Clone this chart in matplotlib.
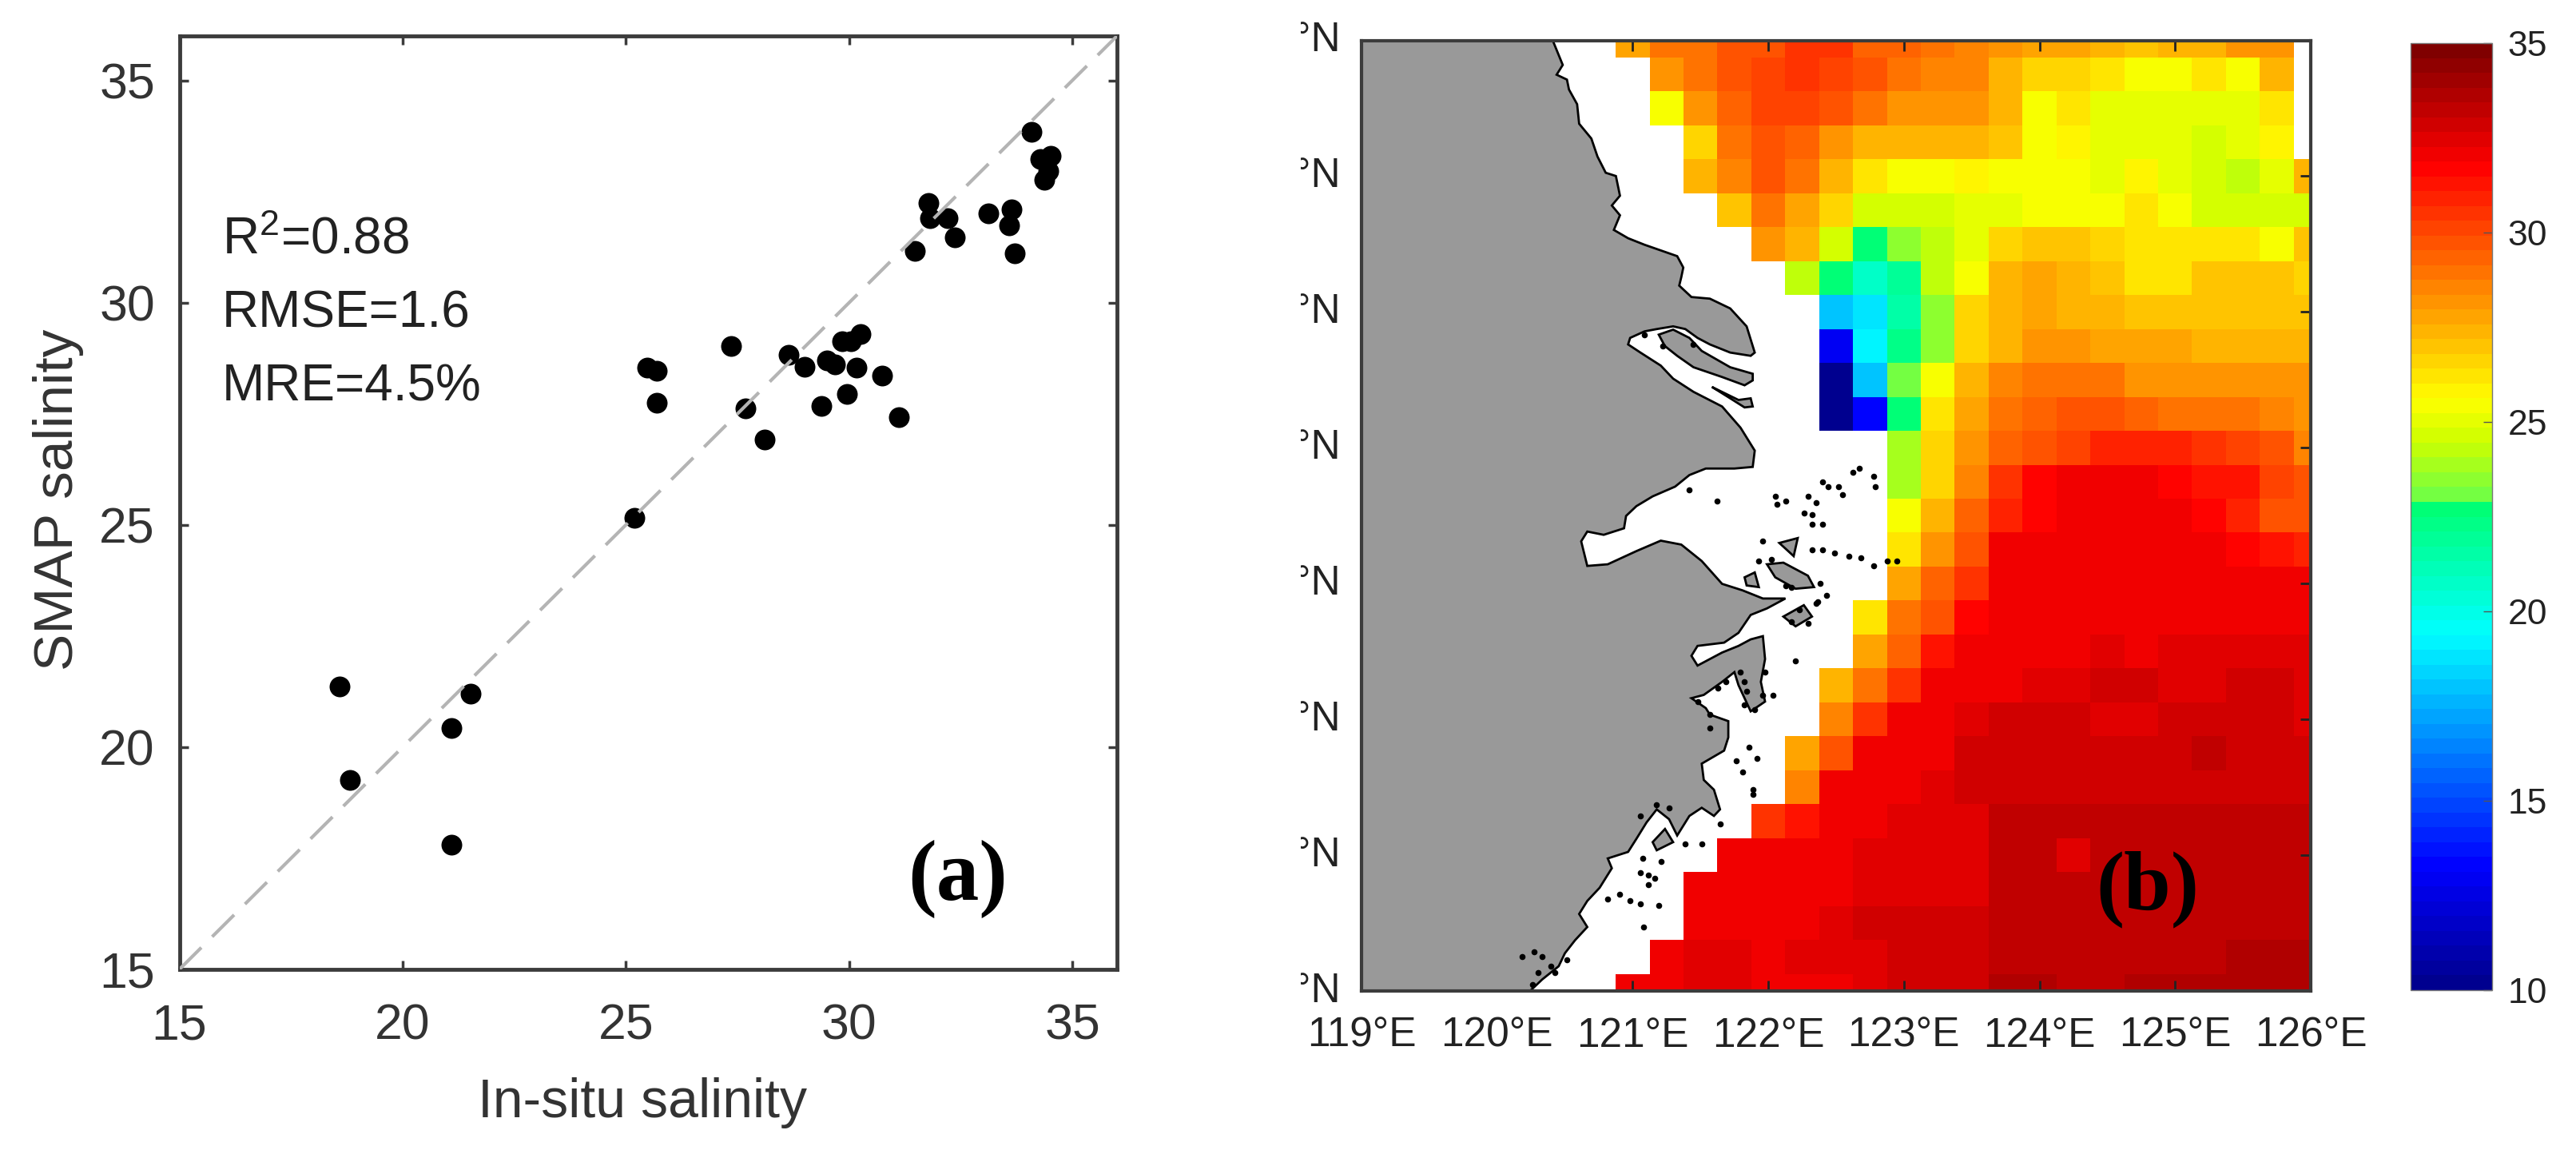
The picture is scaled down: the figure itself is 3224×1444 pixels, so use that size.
# -*- coding: utf-8 -*-
import numpy as np
import matplotlib
matplotlib.use('Agg')
import matplotlib.pyplot as plt
from matplotlib.colors import LinearSegmentedColormap
from matplotlib.transforms import Bbox, blended_transform_factory

plt.rcParams['font.family'] = ['Liberation Sans', 'DejaVu Sans']
plt.rcParams['mathtext.default'] = 'regular'

#%% Scatter data (a)
insitu = [34.09, 34.28, 34.51, 34.46, 34.38, 31.77, 31.81, 32.21, 32.37, 31.48, 33.11, 33.64, 33.58, 33.71,
          30.25, 30.04, 29.84, 28.64, 29.01, 29.51, 29.69, 30.16, 30.74, 29.96, 29.37, 27.67, 28.11, 31.11,
          27.36, 25.47, 25.70, 25.70, 25.20, 18.58, 21.52, 21.10, 18.82, 21.10]
smap = [33.84, 33.23, 33.30, 32.97, 32.76, 32.24, 31.90, 31.90, 31.47, 31.17, 32.00, 32.10, 31.73, 31.11,
        29.30, 29.13, 29.13, 28.83, 28.56, 28.70, 28.61, 28.54, 28.35, 27.94, 27.67, 27.62, 26.92, 27.43,
        29.03, 28.54, 28.47, 27.75, 25.15, 21.37, 21.20, 20.43, 19.27, 17.80]
one_to_one = [15, 36]
scatter_ticks = [15, 20, 25, 30, 35]
stats_labels = ['R$^{2}$=0.88', 'RMSE=1.6', 'MRE=4.5%']
stats_y = [31.1, 29.45, 27.8]

#%% Salinity grid (b), rows from 34N down to 27N, columns from 121E to 126E
n = np.nan
lon = [121 + 0.25 * i for i in range(21)]
lat = [34 - 0.25 * i for i in range(29)]
sal_rows = [
    [27.9, 28.9, 29.1, 29.7, 29.9, 30.5, 30.7, 29.5, 29.3, 28.9, 28.7, 28.3, 27.9, 27.7, 27.4, 27.0, 27.2, 27.2, 28.1, 28.1, n],
    [n, 28.1, 28.9, 29.7, 30.1, 30.7, 30.3, 29.7, 29.1, 28.7, 28.5, 27.4, 26.55, 26.55, 26.1, 25.6, 25.6, 26.1, 25.6, 27.4, n],
    [n, 25.6, 28.3, 29.3, 30.3, 30.3, 29.9, 29.1, 28.3, 28.3, 28.1, 27.2, 25.6, 26.1, 25.2, 25.2, 25.2, 25.2, 25.2, 26.1, n],
    [n, n, 26.55, 29.1, 29.9, 29.5, 28.3, 27.4, 27.4, 27.4, 27.4, 26.8, 25.6, 25.9, 25.2, 25.2, 25.2, 24.8, 25.1, 25.9, n],
    [n, n, 27.55, 28.7, 29.7, 29.1, 27.2, 26.1, 25.6, 25.6, 25.9, 25.6, 25.6, 25.6, 25.2, 25.9, 25.2, 24.8, 24.2, 25.1, 27.55],
    [n, n, n, 26.8, 29.1, 27.9, 26.55, 24.8, 24.5, 24.8, 25.1, 25.1, 25.6, 25.6, 25.6, 26.1, 25.6, 24.8, 24.8, 24.8, 24.8],
    [n, n, n, n, 28.3, 27.2, 24.8, 22.7, 23.3, 24.1, 25.0, 26.55, 26.8, 26.8, 26.55, 26.1, 26.1, 26.4, 26.4, 25.6, 26.8],
    [n, n, n, n, n, 24.1, 22.5, 20.7, 21.9, 24.1, 25.6, 27.2, 27.9, 27.2, 27.0, 26.1, 26.1, 26.8, 26.8, 26.8, 26.55],
    [n, n, n, n, n, n, 18.2, 18.6, 21.4, 23.6, 26.55, 27.4, 27.9, 27.4, 27.2, 26.8, 26.8, 26.8, 26.8, 26.8, 26.8],
    [n, n, n, n, n, n, 13.0, 19.0, 22.3, 23.6, 26.55, 27.55, 28.1, 28.1, 27.9, 27.9, 27.7, 27.4, 27.4, 27.4, 27.2],
    [n, n, n, n, n, n, 10.2, 18.2, 23.0, 25.6, 27.55, 28.5, 29.1, 29.1, 28.9, 28.3, 28.3, 28.3, 28.1, 28.1, 28.1],
    [n, n, n, n, n, n, 10.2, 13.5, 22.85, 26.4, 27.9, 28.9, 29.3, 29.9, 29.9, 29.5, 29.1, 28.9, 28.9, 28.5, 28.3],
    [n, n, n, n, n, n, n, n, 23.9, 26.55, 28.1, 29.5, 29.9, 30.1, 30.9, 30.9, 30.9, 30.5, 30.1, 29.7, 28.7],
    [n, n, n, n, n, n, n, n, 23.9, 26.55, 28.5, 30.5, 31.5, 31.9, 31.9, 31.9, 31.7, 31.3, 31.1, 30.3, 29.9],
    [n, n, n, n, n, n, n, n, 25.6, 27.55, 29.5, 30.9, 31.7, 31.9, 31.9, 31.9, 31.9, 31.7, 30.9, 29.9, 29.9],
    [n, n, n, n, n, n, n, n, 26.4, 28.1, 29.9, 31.9, 31.9, 31.9, 31.9, 31.9, 31.9, 31.9, 31.5, 31.1, 30.9],
    [n, n, n, n, n, n, n, n, 27.9, 29.5, 30.7, 31.9, 31.9, 32.25, 32.25, 32.25, 31.9, 31.9, 31.9, 31.9, 31.9],
    [n, n, n, n, n, n, n, 26.4, 29.1, 29.9, 31.7, 31.9, 31.9, 32.05, 32.05, 32.05, 31.9, 31.9, 32.25, 31.9, 32.25],
    [n, n, n, n, n, n, n, 27.7, 29.3, 31.1, 31.9, 31.9, 32.25, 32.05, 32.6, 32.25, 32.44, 32.44, 32.6, 32.6, 32.44],
    [n, n, n, n, n, n, 27.55, 28.9, 30.7, 31.9, 31.9, 32.25, 32.44, 32.44, 33.0, 33.0, 32.6, 32.6, 32.8, 32.8, 32.6],
    [n, n, n, n, n, n, 28.5, 30.5, 31.9, 31.9, 32.44, 32.8, 32.8, 32.8, 32.44, 32.44, 32.8, 33.0, 33.0, 33.0, 32.6],
    [n, n, n, n, n, 27.9, 29.9, 31.9, 32.05, 32.25, 32.8, 33.0, 33.0, 33.0, 33.0, 33.0, 33.0, 33.4, 33.0, 33.0, 33.0],
    [n, n, n, n, n, 28.7, 31.9, 32.05, 32.25, 32.6, 33.0, 33.0, 33.0, 33.0, 33.0, 33.0, 33.0, 33.0, 33.0, 33.0, 33.0],
    [n, n, n, n, 30.7, 31.1, 31.9, 32.05, 32.6, 32.6, 32.6, 33.1, 33.1, 33.1, 33.1, 33.1, 33.1, 33.1, 33.1, 33.1, 33.1],
    [n, n, n, 31.9, 31.9, 31.9, 32.25, 32.6, 32.6, 32.6, 32.6, 33.1, 33.1, 32.6, 33.1, 33.1, 33.1, 33.1, 33.1, 33.1, 33.1],
    [n, n, 31.9, 31.9, 31.9, 32.25, 32.25, 32.6, 32.6, 32.6, 32.6, 33.1, 33.1, 33.1, 33.1, 33.1, 33.1, 33.1, 33.4, 33.4, 33.1],
    [n, n, 31.9, 32.25, 32.25, 32.25, 32.6, 32.7, 32.8, 32.8, 32.8, 33.1, 33.1, 33.1, 33.3, 33.3, 33.1, 33.1, 33.3, 33.1, 33.1],
    [n, 31.9, 32.6, 32.6, 32.25, 32.6, 32.6, 32.6, 33.0, 33.0, 33.0, 33.1, 33.2, 33.2, 33.2, 33.2, 33.4, 33.4, 33.5, 33.5, 33.5],
    [31.9, 32.05, 32.6, 32.6, 32.25, 32.25, 32.25, 32.6, 33.0, 33.0, 33.0, 33.6, 33.6, 33.2, 33.2, 33.6, 33.5, 33.5, 33.5, 33.5, 33.5],
]

#%% Coastline and islands (degrees)
coast_lon = [119, 120.41, 120.484, 120.439, 120.515, 120.53, 120.59, 120.605, 120.695, 120.74, 120.801, 120.876,
             120.906, 120.846, 120.906, 120.861, 120.966, 121.087, 121.328, 121.373, 121.358, 121.343, 121.433,
             121.569, 121.719, 121.84, 121.9, 121.87, 121.719, 121.569, 121.478, 121.388, 121.298, 121.177,
             121.087, 120.981, 120.966, 121.057, 121.207, 121.298, 121.448, 121.659, 121.795, 121.9, 121.885,
             121.75, 121.539, 121.418, 121.313, 121.147, 121.027, 120.951, 120.936, 120.786, 120.665, 120.62,
             120.665, 120.816, 121.027, 121.207, 121.358, 121.509, 121.659, 121.81, 121.96, 122.126, 121.99,
             121.87, 121.78, 121.674, 121.478, 121.433, 121.478, 121.659, 121.78, 121.87, 121.96, 121.976,
             121.945, 121.976, 121.87, 121.78, 121.75, 121.659, 121.524, 121.433, 121.539, 121.569, 121.705,
             121.705, 121.674, 121.509, 121.524, 121.599, 121.644, 121.599, 121.509, 121.418, 121.328, 121.268,
             121.177, 121.102, 121.027, 120.966, 120.816, 120.846, 120.756, 120.665, 120.605, 120.665, 120.575,
             120.5, 120.454, 120.334, 120.243, 119]
coast_lat = [34, 34, 33.819, 33.747, 33.711, 33.638, 33.53, 33.386, 33.277, 33.145, 33.025, 33.001,
             32.856, 32.784, 32.712, 32.604, 32.543, 32.495, 32.411, 32.327, 32.255, 32.194, 32.11,
             32.098, 32.026, 31.894, 31.701, 31.677, 31.701, 31.761, 31.809, 31.874, 31.894, 31.874,
             31.857, 31.809, 31.761, 31.701, 31.605, 31.509, 31.412, 31.304, 31.148, 30.979, 30.859,
             30.847, 30.847, 30.799, 30.714, 30.642, 30.57, 30.498, 30.407, 30.359, 30.383, 30.311,
             30.13, 30.142, 30.239, 30.316, 30.287, 30.166, 29.998, 29.95, 29.89, 29.89, 29.817,
             29.769, 29.637, 29.565, 29.541, 29.468, 29.396, 29.492, 29.541, 29.589, 29.613, 29.444,
             29.276, 29.131, 29.059, 29.252, 29.348, 29.276, 29.18, 29.156, 29.083, 29.035, 28.987,
             28.867, 28.77, 28.674, 28.554, 28.482, 28.337, 28.289, 28.349, 28.289, 28.145, 28.265,
             28.337, 28.241, 28.12, 28.024, 27.976, 27.904, 27.76, 27.663, 27.567, 27.471, 27.374,
             27.278, 27.182, 27.086, 27, 27]

chongming_lon = [121.192, 121.298, 121.418, 121.509, 121.719, 121.885, 121.885, 121.825, 121.659, 121.448, 121.328, 121.237]
chongming_lat = [31.833, 31.87, 31.809, 31.713, 31.593, 31.545, 31.496, 31.46, 31.521, 31.593, 31.677, 31.749]
changxing_lon = [121.584, 121.78, 121.87, 121.885, 121.825, 121.719]
changxing_lat = [31.448, 31.352, 31.364, 31.304, 31.297, 31.364]
zhoushan_lon = [121.99, 122.111, 122.292, 122.337, 122.201, 122.051]
zhoushan_lat = [30.142, 30.154, 30.058, 29.974, 29.962, 30.046]
daishan_lon = [122.081, 122.217, 122.187]
daishan_lat = [30.299, 30.335, 30.202]
jintang_lon = [121.825, 121.9, 121.93, 121.84]
jintang_lat = [30.046, 30.082, 29.974, 29.986]
liuheng_lon = [122.111, 122.262, 122.322, 122.201]
liuheng_lat = [29.757, 29.841, 29.757, 29.685]
yuhuan_lon = [121.147, 121.238, 121.298, 121.177]
yuhuan_lat = [28.096, 28.193, 28.096, 28.036]

speck_lon = [122.668, 122.623, 122.774, 122.789, 122.442, 122.518, 122.548, 122.397, 122.051, 122.126, 122.066,
             122.292, 122.352, 122.262, 122.322, 122.322, 122.397, 121.418, 121.623, 121.96, 122.322, 122.397,
             122.488, 122.593, 122.683, 122.774, 122.88, 122.948, 122.202, 122.036, 121.855, 121.915, 121.765,
             121.81, 121.885, 121.885, 121.644, 121.509, 121.388, 121.072, 121.207, 121.117, 121.057, 121.162,
             121.117, 120.816, 120.906, 120.982, 121.057, 121.192, 121.081, 121.087, 121.222, 121.448,
             122.171, 122.126, 122.382, 122.427, 122.352, 122.231, 122.171, 122.292, 122.367, 121.93, 122.021,
             121.795, 121.825, 121.84, 121.825, 121.9, 121.96, 121.976, 121.689, 121.629, 121.478, 121.569, 121.569,
             121.057, 121.177, 121.268, 120.274, 120.183, 120.334, 120.394, 120.304, 120.424, 120.259, 120.515]
speck_lat = [30.847, 30.818, 30.787, 30.714, 30.714, 30.714, 30.654, 30.75, 30.642, 30.606, 30.582,
             30.642, 30.594, 30.522, 30.51, 30.438, 30.438, 30.69, 30.606, 30.311, 30.251, 30.251,
             30.226, 30.202, 30.19, 30.13, 30.166, 30.166, 29.432, 29.18, 28.794, 28.71, 28.693,
             28.614, 28.482, 28.445, 28.229, 28.085, 28.085, 27.976, 27.952, 27.856, 27.87, 27.831,
             27.783, 27.675, 27.711, 27.663, 27.639, 27.627, 27.471, 31.833, 31.749, 31.761,
             29.974, 29.986, 30.0, 29.914, 29.853, 29.805, 29.721, 29.709, 29.865, 30.166, 30.178,
             29.348, 29.276, 29.204, 29.107, 29.071, 29.18, 29.348, 29.276, 29.228, 29.131, 29.035, 28.939,
             28.289, 28.373, 28.349, 27.29, 27.254, 27.254, 27.182, 27.134, 27.134, 27.05, 27.23]

lon_ticks = [119, 120, 121, 122, 123, 124, 125, 126]
lon_labels = ['119°E', '120°E', '121°E', '122°E', '123°E', '124°E', '125°E', '126°E']
lat_ticks = [27, 28, 29, 30, 31, 32, 33, 34]
cbar_ticks = [10, 15, 20, 25, 30, 35]

#%% Figure layout
W, H = 3224, 1444
fig = plt.figure(figsize=(W / 100, H / 100), dpi=100)


def axes_px(left, top, right, bottom):
    return fig.add_axes([left / W, 1 - bottom / H, (right - left) / W, (bottom - top) / H])


dark = '#3c3c3c'

#%% Panel (a)
ax = axes_px(224.5, 45, 1398, 1213)
ax.scatter(insitu, smap, s=350, color='black', linewidths=0, zorder=2)
ax.plot(one_to_one, one_to_one, color='#b4b4b4', lw=3, dashes=(9.3, 4.6), zorder=3)
ax.set_xlim(15, 36)
ax.set_ylim(15, 36)
ax.set_xticks(scatter_ticks)
ax.set_yticks(scatter_ticks)
ax.tick_params(axis='both', which='major', direction='in', top=True, right=True, length=8, width=2.5,
               color=dark, labelcolor='#333333', labelsize=45)
ax.tick_params(axis='x', pad=30)
ax.tick_params(axis='y', pad=22)
for s in ax.spines.values():
    s.set_linewidth(3.5)
    s.set_color(dark)
ax.set_xlabel('In-situ salinity', fontsize=49, color='#333333')
ax.xaxis.set_label_coords(0.494, -0.1156)
ax.set_ylabel('SMAP salinity', fontsize=50, color='#333333')
ax.yaxis.set_label_coords(-0.102, 0.503)
for label, y in zip(stats_labels, stats_y):
    ax.text(15.96, y, label, fontsize=46, color='#222222', va='baseline', ha='left')
ax.text(32.43, 17.03, '(a)', fontsize=77, fontweight='bold', family='Liberation Serif',
        color='black', ha='center', va='center')

#%% Panel (b)
ax2 = axes_px(1704, 50.5, 2892, 1240)
sal = np.ma.masked_invalid(np.array(sal_rows))

# jet-like map of the original, with its jump in the green band
cmap = LinearSegmentedColormap.from_list('jet_green', [
    (0, (0, 0, 0.5625)), (0.125, (0, 0, 1)), (0.375, (0, 1, 1)), (0.514, (0, 1, 0.44)),
    (0.515, (0.4, 1, 0.3)), (0.58, (0.8, 1, 0)), (0.625, (1, 1, 0)), (0.875, (1, 0, 0)), (1, (0.5, 0, 0))], N=64)
mesh = ax2.pcolormesh(lon, lat, sal, cmap=cmap, vmin=10, vmax=35, shading='nearest', zorder=1)

land = '#999999'
ax2.fill(coast_lon, coast_lat, facecolor=land, edgecolor='black', lw=2, zorder=2)
for xs, ys in [(chongming_lon, chongming_lat), (changxing_lon, changxing_lat), (zhoushan_lon, zhoushan_lat),
               (daishan_lon, daishan_lat), (jintang_lon, jintang_lat), (liuheng_lon, liuheng_lat),
               (yuhuan_lon, yuhuan_lat)]:
    ax2.fill(xs, ys, facecolor=land, edgecolor='black', lw=2, zorder=2)
ax2.scatter(speck_lon, speck_lat, s=30, color='black', linewidths=0, zorder=3)

ax2.set_xlim(119, 126)
ax2.set_ylim(27, 34)
ax2.set_xticks(lon_ticks)
ax2.set_xticklabels(lon_labels)
ax2.set_yticks(lat_ticks)
ax2.set_yticklabels([])
ax2.tick_params(axis='both', direction='in', top=True, right=True, length=9.5, width=2, color='#222222')
ax2.tick_params(axis='x', labelsize=37, labelcolor='#222222', pad=23)
for s in ax2.spines.values():
    s.set_linewidth(3)
    s.set_color(dark)
    s.set_zorder(5)

# latitude labels are cut off on the left in the original
lat_trans = blended_transform_factory(fig.transFigure, ax2.transData)
lat_clip = Bbox([[1628, 0], [1700, H]])
for y in lat_ticks:
    t = ax2.text(1678 / W, y, '°N', transform=lat_trans, fontsize=37, color='#222222',
                 ha='right', va='center', clip_on=True)
    t.set_clip_box(lat_clip)

ax2.text(124.80, 27.75, '(b)', fontsize=76, fontweight='bold', family='Liberation Serif',
         color='black', ha='center', va='center', zorder=6)

#%% Colorbar
cax = axes_px(3017, 54, 3119, 1239)
cbar = fig.colorbar(mesh, cax=cax, ticks=cbar_ticks)
cbar.ax.tick_params(direction='in', length=8, width=1, color='#555555', labelsize=32, labelcolor='#222222', pad=14)
cbar.outline.set_edgecolor('#777777')
cbar.outline.set_linewidth(1)

fig.savefig('out.png', dpi=100)
